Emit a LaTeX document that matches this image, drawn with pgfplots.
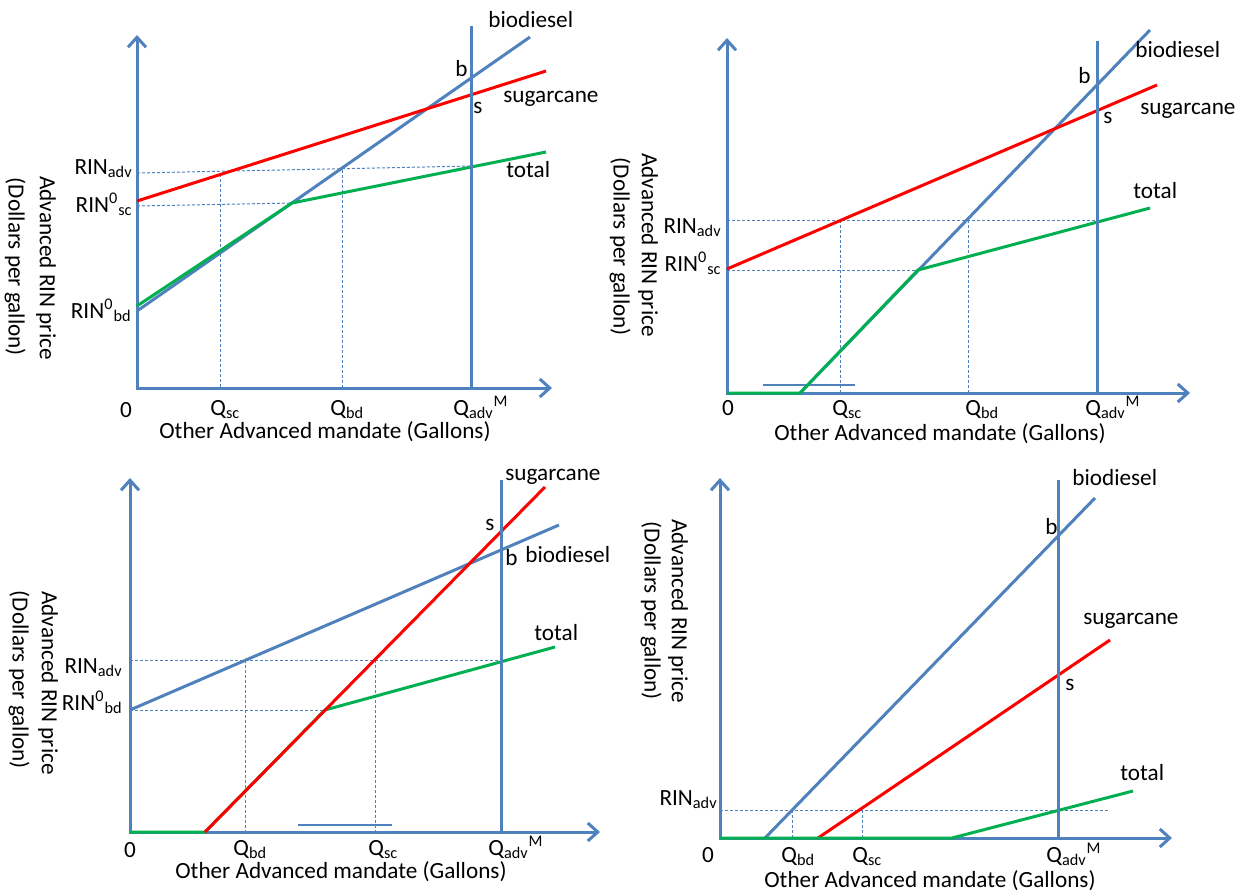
\documentclass[border=0pt]{standalone}
\usepackage{fontspec}
\setmainfont{Carlito}
\usepackage{pgfplots}
\pgfplotsset{compat=1.18}
\usetikzlibrary{arrows.meta}
\definecolor{ablue}{HTML}{4F81BD}
\definecolor{ared}{HTML}{FF0000}
\definecolor{agreen}{HTML}{00B050}
\begin{document}
\begin{tikzpicture}[font=\fontsize{11.6}{13}\selectfont,
  axl/.style={ablue, line width=1.5pt},
  arr/.style={{Straight Barb[length=5pt,width=9pt]}-{Straight Barb[length=5pt,width=9pt]}},
  dl/.style={ablue, line width=0.5pt, dash pattern=on 1.5pt off 1pt},
  bl/.style={ablue, line width=1.5pt},
  rl/.style={ared, line width=1.5pt},
  gl/.style={agreen, line width=1.5pt},
  thinl/.style={ablue, line width=0.6pt},
  lab/.style={anchor=base west, inner sep=0pt},
  rlab/.style={anchor=base east, inner sep=0pt},
  ylab/.style={rotate=-90, anchor=center, inner sep=0pt}]
\begin{axis}[x=0.5pt, y=0.5pt, xmin=0, xmax=1249, ymin=0, ymax=895,
  y dir=reverse, hide axis, clip=false]
\addplot[draw=none] coordinates {(0,0) (1249,895)};
% ---------------- Panel 1 ----------------
\addplot[dl] coordinates {(137,173) (472,166)};
\addplot[dl] coordinates {(137,206) (292,203)};
\addplot[dl] coordinates {(220,174) (220,388)};
\addplot[dl] coordinates {(342,170) (342,388)};
\addplot[axl, arr] coordinates {(137,35) (137,388) (552,388)};
\addplot[bl] coordinates {(137,311) (530,37)};
\addplot[rl] coordinates {(137,201) (546,71)};
\addplot[gl] coordinates {(137,306) (292,203) (546,152)};
\addplot[axl] coordinates {(471,26) (471,388)};
\node[rlab] at (axis cs:133,174) {RIN\textsubscript{adv}};
\node[rlab] at (axis cs:133,212) {RIN\textsuperscript{0}\textsubscript{sc}};
\node[rlab] at (axis cs:132,318) {RIN\textsuperscript{0}\textsubscript{bd}};
\node[anchor=base, inner sep=0pt] at (axis cs:126,417) {0};
\node[lab] at (axis cs:210,415) {Q\textsubscript{sc}};
\node[lab] at (axis cs:330,415) {Q\textsubscript{bd}};
\node[lab] at (axis cs:453,415) {Q\textsubscript{adv}\textsuperscript{M}};
\node[anchor=base, inner sep=0pt] at (axis cs:325,438) {Other Advanced mandate (Gallons)};
\node[ylab] at (axis cs:46,268) {Advanced RIN price};
\node[ylab] at (axis cs:15,267) {(Dollars per gallon)};
\node[lab] at (axis cs:488,27) {biodiesel};
\node[lab] at (axis cs:455,76) {b};
\node[lab] at (axis cs:503,102) {sugarcane};
\node[lab] at (axis cs:473,113) {s};
\node[lab] at (axis cs:506,177) {total};
% ---------------- Panel 2 ----------------
\addplot[dl] coordinates {(727,220) (1097,220)};
\addplot[dl] coordinates {(727,270) (918,270)};
\addplot[dl] coordinates {(840,220) (840,393)};
\addplot[dl] coordinates {(968,220) (968,393)};
\addplot[thinl] coordinates {(763,385) (855,385)};
\addplot[axl, arr] coordinates {(727,38) (727,393) (1190,393)};
\addplot[bl] coordinates {(800,393) (1150,30)};
\addplot[rl] coordinates {(727,269) (1157,85)};
\addplot[gl] coordinates {(727,393) (800,393) (918,270) (1150,208)};
\addplot[axl] coordinates {(1097,41) (1097,393)};
\node[rlab] at (axis cs:722,233) {RIN\textsubscript{adv}};
\node[rlab] at (axis cs:722,271) {RIN\textsuperscript{0}\textsubscript{sc}};
\node[anchor=base, inner sep=0pt] at (axis cs:728,415) {0};
\node[lab] at (axis cs:832,415) {Q\textsubscript{sc}};
\node[lab] at (axis cs:965,415) {Q\textsubscript{bd}};
\node[lab] at (axis cs:1085,415) {Q\textsubscript{adv}\textsuperscript{M}};
\node[anchor=base, inner sep=0pt] at (axis cs:940,440) {Other Advanced mandate (Gallons)};
\node[ylab] at (axis cs:648,245) {Advanced RIN price};
\node[ylab] at (axis cs:620,247) {(Dollars per gallon)};
\node[lab] at (axis cs:1135,57) {biodiesel};
\node[lab] at (axis cs:1078,83) {b};
\node[lab] at (axis cs:1140,114) {sugarcane};
\node[lab] at (axis cs:1103,123) {s};
\node[lab] at (axis cs:1133,198) {total};
% ---------------- Panel 3 ----------------
\addplot[dl] coordinates {(130,660) (501,660)};
\addplot[dl] coordinates {(130,710) (325,710)};
\addplot[dl] coordinates {(245,660) (245,832)};
\addplot[dl] coordinates {(375,660) (375,832)};
\addplot[thinl] coordinates {(298,825) (392,825)};
\addplot[axl, arr] coordinates {(130,478) (130,832) (600,832)};
\addplot[bl] coordinates {(130,710) (559,525)};
\addplot[gl] coordinates {(130,832) (205,832) (325,710) (555,647)};
\addplot[rl] coordinates {(205,832) (545,487)};
\addplot[axl] coordinates {(501,480) (501,832)};
\node[rlab] at (axis cs:123,673) {RIN\textsubscript{adv}};
\node[rlab] at (axis cs:123,710) {RIN\textsuperscript{0}\textsubscript{bd}};
\node[anchor=base, inner sep=0pt] at (axis cs:130,857) {0};
\node[lab] at (axis cs:233,855) {Q\textsubscript{bd}};
\node[lab] at (axis cs:368,855) {Q\textsubscript{sc}};
\node[lab] at (axis cs:488,855) {Q\textsubscript{adv}\textsuperscript{M}};
\node[anchor=base, inner sep=0pt] at (axis cs:341,878) {Other Advanced mandate (Gallons)};
\node[ylab] at (axis cs:48,683) {Advanced RIN price};
\node[ylab] at (axis cs:19,680) {(Dollars per gallon)};
\node[lab] at (axis cs:505,480) {sugarcane};
\node[lab] at (axis cs:485,530) {s};
\node[lab] at (axis cs:505,565) {b};
\node[lab] at (axis cs:525,562) {biodiesel};
\node[lab] at (axis cs:534,640) {total};
% ---------------- Panel 4 ----------------
\addplot[dl] coordinates {(720,810) (1110,810)};
\addplot[dl] coordinates {(792,810) (792,838)};
\addplot[dl] coordinates {(862,810) (862,838)};
\addplot[axl, arr] coordinates {(720,478) (720,838) (1172,838)};
\addplot[bl] coordinates {(765,838) (1095,498)};
\addplot[rl] coordinates {(818,838) (1110,640)};
\addplot[gl] coordinates {(720,838) (952,838) (1133,791)};
\addplot[axl] coordinates {(1058,480) (1058,838)};
\node[rlab] at (axis cs:718,805) {RIN\textsubscript{adv}};
\node[anchor=base, inner sep=0pt] at (axis cs:708,862) {0};
\node[lab] at (axis cs:781,862) {Q\textsubscript{bd}};
\node[lab] at (axis cs:852,862) {Q\textsubscript{sc}};
\node[lab] at (axis cs:1046,862) {Q\textsubscript{adv}\textsuperscript{M}};
\node[anchor=base, inner sep=0pt] at (axis cs:930,887) {Other Advanced mandate (Gallons)};
\node[ylab] at (axis cs:678,611) {Advanced RIN price};
\node[ylab] at (axis cs:651,611) {(Dollars per gallon)};
\node[lab] at (axis cs:1072,485) {biodiesel};
\node[lab] at (axis cs:1045,534) {b};
\node[lab] at (axis cs:1083,624) {sugarcane};
\node[lab] at (axis cs:1065,690) {s};
\node[lab] at (axis cs:1120,780) {total};
\end{axis}
\end{tikzpicture}
\end{document}
